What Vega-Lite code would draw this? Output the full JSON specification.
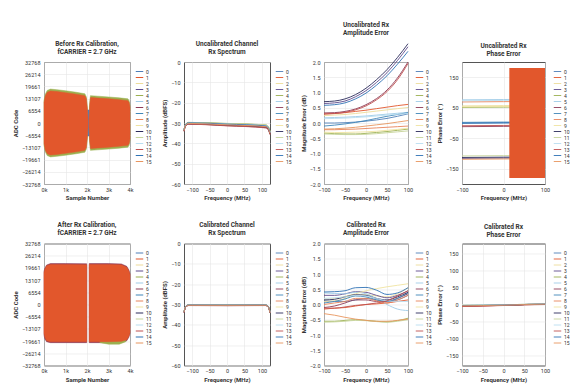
{
"$schema": "https://vega.github.io/schema/vega-lite/v6.json",
"padding": {"left": 11, "top": 21, "right": 5, "bottom": 5},
"config": {
 "font": "Roboto",
 "view": {"stroke": "#555555", "strokeWidth": 1},
 "axis": {"labelFontSize": 5.5, "titleFontSize": 6, "titleFontWeight": "bold", "labelColor": "#333333", "titleColor": "#333333", "gridColor": "#e6e6e6", "gridWidth": 0.6, "domain": false, "ticks": false, "labelPadding": 4, "titlePadding": 3},
 "axisX": {"labelFlush": false, "labelPadding": 3, "titlePadding": 2},
 "legend": {"orient": "none", "legendX": 91, "legendY": 7, "symbolType": "stroke", "symbolSize": 56, "symbolStrokeWidth": 1.2, "labelFontSize": 5, "labelOffset": 2, "rowPadding": 0, "clipHeight": 5, "padding": 0, "labelColor": "#333333"},
 "title": {"fontSize": 6.5, "fontWeight": "bold", "color": "#333333", "offset": 5, "lineHeight": 8, "anchor": "middle"},
 "range": {"category": ["#4f7fb8", "#e2572c", "#eddc9a", "#5d4b8c", "#9bb050", "#9fcce8", "#8e3b55", "#3f86b8", "#e8835a", "#efe3a0", "#2b2b5b", "#c6d49a", "#b9def0", "#c0504f", "#2f72b4", "#e8955e"]},
 "line": {"strokeWidth": 0.9, "interpolate": "monotone", "clip": true},
 "area": {"clip": true}
},
"datasets": {
 "t1": [
  {"x":0,"hi":12000,"lo":-12000,"ch":"4","blk":"L"},{"x":60,"hi":15500,"lo":-15500,"ch":"4","blk":"L"},{"x":150,"hi":17500,"lo":-17500,"ch":"4","blk":"L"},{"x":300,"hi":18200,"lo":-18200,"ch":"4","blk":"L"},{"x":600,"hi":17900,"lo":-17900,"ch":"4","blk":"L"},{"x":1000,"hi":17300,"lo":-17300,"ch":"4","blk":"L"},{"x":1500,"hi":16500,"lo":-16500,"ch":"4","blk":"L"},{"x":1900,"hi":15700,"lo":-15700,"ch":"4","blk":"L"},{"x":1970,"hi":14000,"lo":-14000,"ch":"4","blk":"L"},{"x":2020,"hi":8000,"lo":-8000,"ch":"4","blk":"L"},{"x":2050,"hi":2500,"lo":-2500,"ch":"4","blk":"L"},
  {"x":2090,"hi":3000,"lo":-3000,"ch":"4","blk":"R"},{"x":2120,"hi":10500,"lo":-10500,"ch":"4","blk":"R"},{"x":2160,"hi":14700,"lo":-14700,"ch":"4","blk":"R"},{"x":2500,"hi":14400,"lo":-14400,"ch":"4","blk":"R"},{"x":3000,"hi":14000,"lo":-14000,"ch":"4","blk":"R"},{"x":3500,"hi":13500,"lo":-13500,"ch":"4","blk":"R"},{"x":3900,"hi":13000,"lo":-13000,"ch":"4","blk":"R"},{"x":3960,"hi":12000,"lo":-12000,"ch":"4","blk":"R"},{"x":4000,"hi":9500,"lo":-9500,"ch":"4","blk":"R"},
  {"x":2030,"hi":7000,"lo":-7000,"ch":"0","blk":"G"},{"x":2120,"hi":7000,"lo":-7000,"ch":"0","blk":"G"},
  {"x":0,"hi":11000,"lo":-11000,"ch":"1","blk":"L"},{"x":60,"hi":14500,"lo":-14500,"ch":"1","blk":"L"},{"x":150,"hi":16500,"lo":-16500,"ch":"1","blk":"L"},{"x":300,"hi":17200,"lo":-17200,"ch":"1","blk":"L"},{"x":600,"hi":16900,"lo":-16900,"ch":"1","blk":"L"},{"x":1000,"hi":16300,"lo":-16300,"ch":"1","blk":"L"},{"x":1500,"hi":15500,"lo":-15500,"ch":"1","blk":"L"},{"x":1900,"hi":14700,"lo":-14700,"ch":"1","blk":"L"},{"x":1970,"hi":13000,"lo":-13000,"ch":"1","blk":"L"},{"x":2020,"hi":7000,"lo":-7000,"ch":"1","blk":"L"},{"x":2050,"hi":2000,"lo":-2000,"ch":"1","blk":"L"},
  {"x":2095,"hi":2500,"lo":-2500,"ch":"1","blk":"R"},{"x":2125,"hi":9500,"lo":-9500,"ch":"1","blk":"R"},{"x":2165,"hi":13700,"lo":-13700,"ch":"1","blk":"R"},{"x":2500,"hi":13400,"lo":-13400,"ch":"1","blk":"R"},{"x":3000,"hi":13000,"lo":-13000,"ch":"1","blk":"R"},{"x":3500,"hi":12500,"lo":-12500,"ch":"1","blk":"R"},{"x":3900,"hi":12000,"lo":-12000,"ch":"1","blk":"R"},{"x":3960,"hi":11000,"lo":-11000,"ch":"1","blk":"R"},{"x":4000,"hi":8500,"lo":-8500,"ch":"1","blk":"R"}
 ],
 "t2": [
  {"x":0,"hi":18000,"lo":-16500,"ch":"6","blk":"L"},{"x":40,"hi":19500,"lo":-18500,"ch":"6","blk":"L"},{"x":120,"hi":21200,"lo":-20000,"ch":"6","blk":"L"},{"x":300,"hi":22000,"lo":-20500,"ch":"6","blk":"L"},{"x":1000,"hi":22000,"lo":-20500,"ch":"6","blk":"L"},{"x":1985,"hi":21900,"lo":-20500,"ch":"6","blk":"L"},
  {"x":2105,"hi":22000,"lo":-20500,"ch":"6","blk":"R"},{"x":3000,"hi":22000,"lo":-20500,"ch":"6","blk":"R"},{"x":3600,"hi":21800,"lo":-20300,"ch":"6","blk":"R"},{"x":3850,"hi":20500,"lo":-19500,"ch":"6","blk":"R"},{"x":3950,"hi":18500,"lo":-17500,"ch":"6","blk":"R"},{"x":4000,"hi":16500,"lo":-15500,"ch":"6","blk":"R"},
  {"x":2600,"hi":0,"lo":-20500,"ch":"4","blk":"R"},{"x":3000,"hi":0,"lo":-21300,"ch":"4","blk":"R"},{"x":3500,"hi":0,"lo":-21300,"ch":"4","blk":"R"},{"x":3800,"hi":0,"lo":-20000,"ch":"4","blk":"R"},
  {"x":0,"hi":17000,"lo":-15500,"ch":"1","blk":"L"},{"x":40,"hi":19000,"lo":-17500,"ch":"1","blk":"L"},{"x":120,"hi":20800,"lo":-19500,"ch":"1","blk":"L"},{"x":300,"hi":21500,"lo":-20000,"ch":"1","blk":"L"},{"x":1000,"hi":21500,"lo":-20000,"ch":"1","blk":"L"},{"x":1985,"hi":21400,"lo":-20000,"ch":"1","blk":"L"},
  {"x":2105,"hi":21500,"lo":-20000,"ch":"1","blk":"R"},{"x":3000,"hi":21500,"lo":-20000,"ch":"1","blk":"R"},{"x":3600,"hi":21300,"lo":-19800,"ch":"1","blk":"R"},{"x":3850,"hi":20000,"lo":-19000,"ch":"1","blk":"R"},{"x":3950,"hi":18000,"lo":-17000,"ch":"1","blk":"R"},{"x":4000,"hi":16000,"lo":-15000,"ch":"1","blk":"R"}
 ],
 "s1": [
  {"f":-122.88,"0":-33.3,"1":-33.5,"2":-33.4,"3":-33.8,"4":-33.2,"5":-33.6,"6":-34.0,"7":-33.4,"8":-33.7,"9":-33.5,"10":-33.9,"11":-33.3,"12":-33.6,"13":-34.1,"14":-33.4,"15":-33.7},
  {"f":-118,"0":-30.6,"1":-30.8,"2":-30.7,"3":-31.1,"4":-30.5,"5":-30.9,"6":-31.3,"7":-30.7,"8":-31.0,"9":-30.8,"10":-31.2,"11":-30.6,"12":-30.9,"13":-31.4,"14":-30.7,"15":-31.0},
  {"f":-110,"0":-29.8,"1":-30.0,"2":-29.9,"3":-30.3,"4":-29.7,"5":-30.1,"6":-30.5,"7":-29.9,"8":-30.2,"9":-30.0,"10":-30.4,"11":-29.8,"12":-30.1,"13":-30.6,"14":-29.9,"15":-30.2},
  {"f":0,"0":-30.4,"1":-30.65,"2":-30.35,"3":-31.05,"4":-30.2,"5":-30.65,"6":-31.3,"7":-30.5,"8":-30.85,"9":-30.45,"10":-31.15,"11":-30.3,"12":-30.6,"13":-31.4,"14":-30.55,"15":-30.9},
  {"f":110,"0":-31.2,"1":-31.5,"2":-31.0,"3":-32.0,"4":-30.9,"5":-31.4,"6":-32.3,"7":-31.3,"8":-31.7,"9":-31.1,"10":-32.1,"11":-31.0,"12":-31.3,"13":-32.4,"14":-31.4,"15":-31.8},
  {"f":118,"0":-32.1,"1":-32.4,"2":-31.9,"3":-32.9,"4":-31.8,"5":-32.3,"6":-33.2,"7":-32.2,"8":-32.6,"9":-32.0,"10":-33.0,"11":-31.9,"12":-32.2,"13":-33.3,"14":-32.3,"15":-32.7},
  {"f":122.88,"0":-34.5,"1":-34.8,"2":-34.3,"3":-35.3,"4":-34.2,"5":-34.7,"6":-35.6,"7":-34.6,"8":-35.0,"9":-34.4,"10":-35.4,"11":-34.3,"12":-34.6,"13":-35.7,"14":-34.7,"15":-35.1}
 ],
 "s2": [
  {"f":-122.88,"0":-33.6,"1":-33.7,"2":-33.55,"3":-33.8,"4":-33.65,"5":-33.6,"6":-33.9,"7":-33.7,"8":-33.75,"9":-33.6,"10":-33.85,"11":-33.65,"12":-33.7,"13":-33.9,"14":-33.6,"15":-33.75},
  {"f":-118,"0":-31.0,"1":-31.1,"2":-30.95,"3":-31.2,"4":-31.05,"5":-31.0,"6":-31.3,"7":-31.1,"8":-31.15,"9":-31.0,"10":-31.25,"11":-31.05,"12":-31.1,"13":-31.3,"14":-31.0,"15":-31.15},
  {"f":-110,"0":-30.2,"1":-30.3,"2":-30.15,"3":-30.4,"4":-30.25,"5":-30.2,"6":-30.5,"7":-30.3,"8":-30.35,"9":-30.2,"10":-30.45,"11":-30.25,"12":-30.3,"13":-30.5,"14":-30.2,"15":-30.35},
  {"f":0,"0":-30.25,"1":-30.35,"2":-30.2,"3":-30.45,"4":-30.3,"5":-30.25,"6":-30.55,"7":-30.35,"8":-30.4,"9":-30.25,"10":-30.5,"11":-30.3,"12":-30.35,"13":-30.55,"14":-30.25,"15":-30.4},
  {"f":110,"0":-30.2,"1":-30.3,"2":-30.15,"3":-30.4,"4":-30.25,"5":-30.2,"6":-30.5,"7":-30.3,"8":-30.35,"9":-30.2,"10":-30.45,"11":-30.25,"12":-30.3,"13":-30.5,"14":-30.2,"15":-30.35},
  {"f":118,"0":-31.0,"1":-31.1,"2":-30.95,"3":-31.2,"4":-31.05,"5":-31.0,"6":-31.3,"7":-31.1,"8":-31.15,"9":-31.0,"10":-31.25,"11":-31.05,"12":-31.1,"13":-31.3,"14":-31.0,"15":-31.15},
  {"f":122.88,"0":-33.8,"1":-33.9,"2":-33.75,"3":-34.0,"4":-33.85,"5":-33.8,"6":-34.1,"7":-33.9,"8":-33.95,"9":-33.8,"10":-34.05,"11":-33.85,"12":-33.9,"13":-34.1,"14":-33.8,"15":-33.95}
 ],
 "a1": [
  {"f":-100,"0":0.00,"1":0.29,"2":0.24,"3":0.64,"4":-0.33,"5":0.17,"6":0.33,"7":-0.10,"8":-0.22,"9":-0.30,"10":0.70,"11":-0.36,"12":0.14,"13":0.30,"14":0.58,"15":-0.20},
  {"f":-75,"0":0.00,"1":0.31,"2":0.26,"3":0.66,"4":-0.35,"5":0.18,"6":0.34,"7":-0.07,"8":-0.22,"9":-0.31,"10":0.72,"11":-0.37,"12":0.15,"13":0.31,"14":0.60,"15":-0.19},
  {"f":-50,"0":0.01,"1":0.34,"2":0.28,"3":0.72,"4":-0.36,"5":0.19,"6":0.38,"7":-0.03,"8":-0.21,"9":-0.31,"10":0.79,"11":-0.38,"12":0.16,"13":0.35,"14":0.66,"15":-0.17},
  {"f":-25,"0":0.03,"1":0.38,"2":0.31,"3":0.86,"4":-0.36,"5":0.21,"6":0.46,"7":0.02,"8":-0.20,"9":-0.30,"10":0.93,"11":-0.38,"12":0.18,"13":0.43,"14":0.79,"15":-0.14},
  {"f":0,"0":0.06,"1":0.42,"2":0.35,"3":1.06,"4":-0.34,"5":0.23,"6":0.60,"7":0.08,"8":-0.18,"9":-0.29,"10":1.14,"11":-0.37,"12":0.20,"13":0.56,"14":0.98,"15":-0.10},
  {"f":25,"0":0.10,"1":0.47,"2":0.39,"3":1.33,"4":-0.31,"5":0.26,"6":0.80,"7":0.15,"8":-0.16,"9":-0.27,"10":1.42,"11":-0.35,"12":0.23,"13":0.76,"14":1.24,"15":-0.06},
  {"f":50,"0":0.15,"1":0.52,"2":0.43,"3":1.65,"4":-0.28,"5":0.29,"6":1.08,"7":0.22,"8":-0.14,"9":-0.24,"10":1.75,"11":-0.32,"12":0.26,"13":1.03,"14":1.55,"15":-0.02},
  {"f":75,"0":0.22,"1":0.57,"2":0.47,"3":2.05,"4":-0.24,"5":0.32,"6":1.48,"7":0.28,"8":-0.12,"9":-0.21,"10":2.15,"11":-0.29,"12":0.29,"13":1.42,"14":1.93,"15":0.03},
  {"f":100,"0":0.30,"1":0.61,"2":0.51,"3":2.5,"4":-0.20,"5":0.35,"6":2.0,"7":0.34,"8":-0.10,"9":-0.17,"10":2.6,"11":-0.26,"12":0.31,"13":1.95,"14":2.35,"15":0.08}
 ],
 "a2": [
  {"f":-100,"0":0.12,"1":-0.15,"2":0.10,"3":0.30,"4":-0.55,"5":0.38,"6":-0.10,"7":0.05,"8":0.00,"9":0.18,"10":0.15,"11":-0.58,"12":0.20,"13":-0.12,"14":0.41,"15":-0.30},
  {"f":-75,"0":0.10,"1":-0.12,"2":0.12,"3":0.30,"4":-0.55,"5":0.36,"6":-0.05,"7":0.10,"8":0.05,"9":0.20,"10":0.17,"11":-0.57,"12":0.22,"13":-0.12,"14":0.42,"15":-0.35},
  {"f":-50,"0":0.10,"1":-0.10,"2":0.20,"3":0.35,"4":-0.52,"5":0.35,"6":0.05,"7":0.18,"8":0.10,"9":0.27,"10":0.25,"11":-0.55,"12":0.25,"13":-0.08,"14":0.45,"15":-0.42},
  {"f":-25,"0":0.15,"1":-0.05,"2":0.30,"3":0.42,"4":-0.50,"5":0.40,"6":0.15,"7":0.28,"8":0.20,"9":0.35,"10":0.32,"11":-0.52,"12":0.30,"13":-0.03,"14":0.55,"15":-0.48},
  {"f":0,"0":0.20,"1":0.00,"2":0.32,"3":0.40,"4":-0.52,"5":0.35,"6":0.15,"7":0.25,"8":0.20,"9":0.45,"10":0.30,"11":-0.53,"12":0.28,"13":0.00,"14":0.56,"15":-0.52},
  {"f":25,"0":0.15,"1":0.02,"2":0.28,"3":0.30,"4":-0.55,"5":0.20,"6":0.10,"7":0.15,"8":0.12,"9":0.52,"10":0.20,"11":-0.56,"12":0.20,"13":0.05,"14":0.47,"15":-0.55},
  {"f":50,"0":0.10,"1":0.05,"2":0.25,"3":0.22,"4":-0.57,"5":0.00,"6":0.10,"7":0.10,"8":0.05,"9":0.58,"10":0.15,"11":-0.58,"12":0.12,"13":0.12,"14":0.33,"15":-0.55},
  {"f":75,"0":0.15,"1":0.10,"2":0.35,"3":0.30,"4":-0.53,"5":-0.15,"6":0.20,"7":0.20,"8":0.15,"9":0.63,"10":0.25,"11":-0.55,"12":0.10,"13":0.28,"14":0.38,"15":-0.52},
  {"f":100,"0":0.30,"1":0.15,"2":0.55,"3":0.45,"4":-0.45,"5":-0.20,"6":0.35,"7":0.38,"8":0.30,"9":0.68,"10":0.40,"11":-0.50,"12":0.10,"13":0.45,"14":0.55,"15":-0.48}
 ],
 "p1": [
  {"f":-100,"0":0,"2":56,"3":-116,"4":51,"5":76,"6":-12,"7":2,"8":69,"9":53,"10":-113,"11":-108,"12":73,"13":-9,"14":-1,"15":-119},
  {"f":0,"0":1,"2":57,"3":-115,"4":52,"5":77,"6":-11,"7":3,"8":70,"9":54,"10":-112,"11":-107,"12":74,"13":-8,"14":0,"15":-118},
  {"f":100,"0":2,"2":58,"3":-114,"4":53,"5":78,"6":-10,"7":3,"8":71,"9":55,"10":-111,"11":-106,"12":75,"13":-7,"14":1,"15":-117}
 ],
 "p1b": [
  {"f":14,"hi":180,"lo":-180,"ch":"1"},{"f":100,"hi":180,"lo":-180,"ch":"1"}
 ],
 "p2": [
  {"f":-100,"0":-3,"1":-5,"2":-2,"3":-4,"4":-3,"5":-2,"6":-5,"7":-3,"8":-4,"9":-2,"10":-4,"11":-3,"12":-2,"13":-6,"14":-3,"15":-4},
  {"f":-50,"0":-2.5,"1":-4,"2":-1.5,"3":-3,"4":-2.5,"5":-1.5,"6":-4,"7":-2.5,"8":-3,"9":-1.5,"10":-3,"11":-2.5,"12":-1.5,"13":-4.5,"14":-2.5,"15":-3},
  {"f":0,"0":-1.5,"1":-2.5,"2":-1,"3":-2,"4":-1.5,"5":-1,"6":-2.5,"7":-1.5,"8":-2,"9":-1,"10":-2,"11":-1.5,"12":-1,"13":-3,"14":-1.5,"15":-2},
  {"f":50,"0":0,"1":-0.5,"2":0.5,"3":0,"4":0,"5":0.5,"6":-0.5,"7":0,"8":0,"9":0.5,"10":0,"11":0,"12":0.5,"13":-1,"14":0,"15":0},
  {"f":100,"0":1,"1":0.5,"2":1.5,"3":1,"4":1,"5":1.5,"6":0.5,"7":1,"8":1,"9":1.5,"10":1,"11":1,"12":1.5,"13":0,"14":1,"15":1}
 ]
},
"columns": 4,
"spacing": {"row": 59.5, "column": 54},
"bounds": "flush",
"resolve": {"scale": {"color": "independent", "fill": "independent", "stroke": "independent"}, "legend": {"color": "independent", "fill": "independent", "stroke": "independent"}},
"concat": [
 {
  "title": {"text": ["Before Rx Calibration,", "fCARRIER = 2.7 GHz"]},
  "width": 86, "height": 122,
  "data": {"name": "t1"},
  "mark": {"type": "area", "strokeWidth": 0.5},
  "encoding": {
   "x": {"field": "x", "type": "quantitative", "scale": {"domain": [0, 4000]}, "axis": {"values": [0, 1000, 2000, 3000, 4000], "format": "~s", "title": "Sample Number"}},
   "y": {"field": "hi", "type": "quantitative", "scale": {"domain": [-32768, 32768]}, "axis": {"values": [32768, 26214.4, 19660.8, 13107.2, 6553.6, 0, -6553.6, -13107.2, -19660.8, -26214.4, -32768], "format": ".0f", "title": "ADC Code"}},
   "y2": {"field": "lo"},
   "fill": {"field": "ch", "type": "nominal", "scale": {"domain": ["0","1","2","3","4","5","6","7","8","9","10","11","12","13","14","15"]}, "legend": {"title": null}},
   "stroke": {"field": "ch", "type": "nominal", "scale": {"domain": ["0","1","2","3","4","5","6","7","8","9","10","11","12","13","14","15"]}, "legend": {"title": null}},
   "detail": {"field": "blk"}
  }
 },
 {
  "title": {"text": ["Uncalibrated Channel", "Rx Spectrum"]},
  "width": 86, "height": 122,
  "data": {"name": "s1"},
  "transform": [{"fold": ["0","1","2","3","4","5","6","7","8","9","10","11","12","13","14","15"], "as": ["ch", "v"]}],
  "mark": {"type": "line"},
  "encoding": {
   "x": {"field": "f", "type": "quantitative", "scale": {"domain": [-122.88, 122.88]}, "axis": {"values": [-100, -50, 0, 50, 100], "title": "Frequency (MHz)"}},
   "y": {"field": "v", "type": "quantitative", "scale": {"domain": [-60, 0]}, "axis": {"values": [0, -10, -20, -30, -40, -50, -60], "title": "Amplitude (dBFS)"}},
   "color": {"field": "ch", "type": "nominal", "scale": {"domain": ["0","1","2","3","4","5","6","7","8","9","10","11","12","13","14","15"]}, "legend": {"title": null}}
  }
 },
 {
  "title": {"text": ["Uncalibrated Rx", "Amplitude Error"]},
  "width": 84, "height": 122,
  "data": {"name": "a1"},
  "transform": [{"fold": ["0","1","2","3","4","5","6","7","8","9","10","11","12","13","14","15"], "as": ["ch", "v"]}],
  "mark": {"type": "line"},
  "encoding": {
   "x": {"field": "f", "type": "quantitative", "scale": {"domain": [-100, 100]}, "axis": {"values": [-100, -50, 0, 50, 100], "title": "Frequency (MHz)"}},
   "y": {"field": "v", "type": "quantitative", "scale": {"domain": [-2, 2]}, "axis": {"values": [2, 1.5, 1, 0.5, 0, -0.5, -1, -1.5, -2], "title": "Magnitude Error (dB)"}},
   "color": {"field": "ch", "type": "nominal", "scale": {"domain": ["0","1","2","3","4","5","6","7","8","9","10","11","12","13","14","15"]}, "legend": {"title": null}}
  }
 },
 {
  "title": {"text": ["Uncalibrated Rx", "Phase Error"]},
  "width": 83, "height": 122,
  "layer": [
   {
    "data": {"name": "p1"},
    "transform": [{"fold": ["0","2","3","4","5","6","7","8","9","10","11","12","13","14","15"], "as": ["ch", "v"]}],
    "mark": {"type": "line"},
    "encoding": {
     "x": {"field": "f", "type": "quantitative", "scale": {"domain": [-100, 100]}, "axis": {"values": [-100, -50, 0, 50, 100], "title": "Frequency (MHz)"}},
     "y": {"field": "v", "type": "quantitative", "scale": {"domain": [-180, 180]}, "axis": {"values": [150, 100, 50, 0, -50, -100, -150], "title": "Phase Error (°)"}},
     "color": {"field": "ch", "type": "nominal", "scale": {"domain": ["0","1","2","3","4","5","6","7","8","9","10","11","12","13","14","15"]}, "legend": {"title": null}}
    }
   },
   {
    "data": {"name": "p1b"},
    "mark": {"type": "area", "clip": true},
    "encoding": {
     "x": {"field": "f", "type": "quantitative"},
     "y": {"field": "hi", "type": "quantitative"},
     "y2": {"field": "lo"},
     "color": {"field": "ch", "type": "nominal"}
    }
   }
  ]
 },
 {
  "title": {"text": ["After Rx Calibration,", "fCARRIER = 2.7 GHz"]},
  "width": 86, "height": 122,
  "data": {"name": "t2"},
  "mark": {"type": "area", "strokeWidth": 0.5},
  "encoding": {
   "x": {"field": "x", "type": "quantitative", "scale": {"domain": [0, 4000]}, "axis": {"values": [0, 1000, 2000, 3000, 4000], "format": "~s", "title": "Sample Number"}},
   "y": {"field": "hi", "type": "quantitative", "scale": {"domain": [-32768, 32768]}, "axis": {"values": [32768, 26214.4, 19660.8, 13107.2, 6553.6, 0, -6553.6, -13107.2, -19660.8, -26214.4, -32768], "format": ".0f", "title": "ADC Code"}},
   "y2": {"field": "lo"},
   "fill": {"field": "ch", "type": "nominal", "scale": {"domain": ["0","1","2","3","4","5","6","7","8","9","10","11","12","13","14","15"]}, "legend": {"title": null}},
   "stroke": {"field": "ch", "type": "nominal", "scale": {"domain": ["0","1","2","3","4","5","6","7","8","9","10","11","12","13","14","15"]}, "legend": {"title": null}},
   "detail": {"field": "blk"}
  }
 },
 {
  "title": {"text": ["Calibrated Channel", "Rx Spectrum"]},
  "width": 86, "height": 122,
  "data": {"name": "s2"},
  "transform": [{"fold": ["0","1","2","3","4","5","6","7","8","9","10","11","12","13","14","15"], "as": ["ch", "v"]}],
  "mark": {"type": "line"},
  "encoding": {
   "x": {"field": "f", "type": "quantitative", "scale": {"domain": [-122.88, 122.88]}, "axis": {"values": [-100, -50, 0, 50, 100], "title": "Frequency (MHz)"}},
   "y": {"field": "v", "type": "quantitative", "scale": {"domain": [-60, 0]}, "axis": {"values": [0, -10, -20, -30, -40, -50, -60], "title": "Amplitude (dBFS)"}},
   "color": {"field": "ch", "type": "nominal", "scale": {"domain": ["0","1","2","3","4","5","6","7","8","9","10","11","12","13","14","15"]}, "legend": {"title": null}}
  }
 },
 {
  "title": {"text": ["Calibrated Rx", "Amplitude Error"]},
  "width": 84, "height": 122,
  "data": {"name": "a2"},
  "transform": [{"fold": ["0","1","2","3","4","5","6","7","8","9","10","11","12","13","14","15"], "as": ["ch", "v"]}],
  "mark": {"type": "line"},
  "encoding": {
   "x": {"field": "f", "type": "quantitative", "scale": {"domain": [-100, 100]}, "axis": {"values": [-100, -50, 0, 50, 100], "title": "Frequency (MHz)"}},
   "y": {"field": "v", "type": "quantitative", "scale": {"domain": [-2, 2]}, "axis": {"values": [2, 1.5, 1, 0.5, 0, -0.5, -1, -1.5, -2], "title": "Magnitude Error (dB)"}},
   "color": {"field": "ch", "type": "nominal", "scale": {"domain": ["0","1","2","3","4","5","6","7","8","9","10","11","12","13","14","15"]}, "legend": {"title": null}}
  }
 },
 {
  "title": {"text": ["Calibrated Rx", "Phase Error"]},
  "width": 83, "height": 122,
  "data": {"name": "p2"},
  "transform": [{"fold": ["0","1","2","3","4","5","6","7","8","9","10","11","12","13","14","15"], "as": ["ch", "v"]}],
  "mark": {"type": "line"},
  "encoding": {
   "x": {"field": "f", "type": "quantitative", "scale": {"domain": [-100, 100]}, "axis": {"values": [-100, -50, 0, 50, 100], "title": "Frequency (MHz)"}},
   "y": {"field": "v", "type": "quantitative", "scale": {"domain": [-180, 180]}, "axis": {"values": [150, 100, 50, 0, -50, -100, -150], "title": "Phase Error (°)"}},
   "color": {"field": "ch", "type": "nominal", "scale": {"domain": ["0","1","2","3","4","5","6","7","8","9","10","11","12","13","14","15"]}, "legend": {"title": null}}
  }
 }
]
}
